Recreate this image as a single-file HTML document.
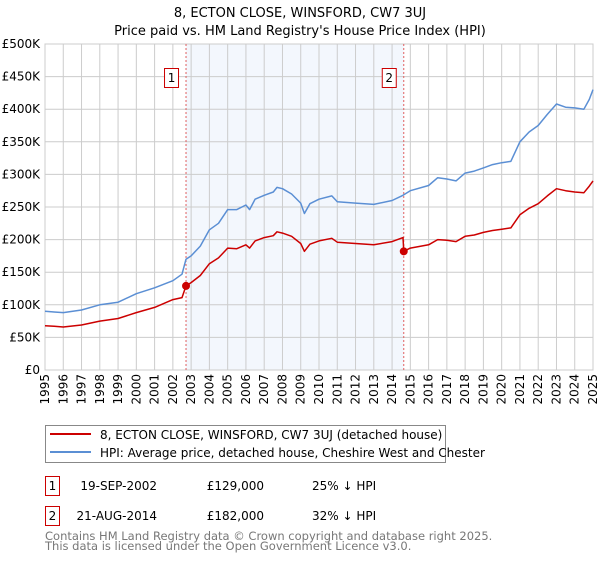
<!DOCTYPE html>
<html><head><meta charset="utf-8"><style>
body{margin:0;background:#fff;font-family:"DejaVu Sans","Liberation Sans",sans-serif;}
svg text{font-family:"DejaVu Sans","Liberation Sans",sans-serif;}
</style></head><body>
<svg id="c" width="600" height="560" xmlns="http://www.w3.org/2000/svg">
<text x="300" y="17" text-anchor="middle" font-size="13">8, ECTON CLOSE, WINSFORD, CW7 3UJ</text>
<text x="300" y="35" text-anchor="middle" font-size="13">Price paid vs. HM Land Registry's House Price Index (HPI)</text>
<g id="plot"></g>
<g>
<rect x="45.5" y="425.5" width="400" height="37" fill="#fff" stroke="#888"/>
<line x1="50" y1="434" x2="91" y2="434" stroke="#cc0000" stroke-width="2"/>
<text x="100" y="439" font-size="12">8, ECTON CLOSE, WINSFORD, CW7 3UJ (detached house)</text>
<line x1="50" y1="452" x2="91" y2="452" stroke="#5b8fd4" stroke-width="2"/>
<text x="100" y="457" font-size="12">HPI: Average price, detached house, Cheshire West and Chester</text>
</g>
<g>
<rect x="45.5" y="476.5" width="14" height="19" fill="#fff" stroke="#cc0000"/>
<text x="52.5" y="490" font-size="12" text-anchor="middle">1</text>
<text x="157" y="490" font-size="12" text-anchor="end">19-SEP-2002</text>
<text x="264" y="490" font-size="12" text-anchor="end">£129,000</text>
<text x="312" y="490" font-size="12">25% ↓ HPI</text>
<rect x="45.5" y="506.5" width="14" height="19" fill="#fff" stroke="#cc0000"/>
<text x="52.5" y="520" font-size="12" text-anchor="middle">2</text>
<text x="157" y="520" font-size="12" text-anchor="end">21-AUG-2014</text>
<text x="264" y="520" font-size="12" text-anchor="end">£182,000</text>
<text x="312" y="520" font-size="12">32% ↓ HPI</text>
</g>
<text x="45" y="540" font-size="11.5" fill="#777">Contains HM Land Registry data © Crown copyright and database right 2025.</text>
<text x="45" y="550" font-size="11.5" fill="#777">This data is licensed under the Open Government Licence v3.0.</text>
</svg>
<script>
const hpiYears=[1995,1995.5,1996,1997,1998,1999,2000,2001,2002,2002.5,2002.72,2003,2003.5,2004,2004.5,2005,2005.5,2006,2006.2,2006.5,2007,2007.5,2007.7,2008,2008.5,2009,2009.2,2009.5,2010,2010.7,2011,2012,2013,2014,2014.6,2015,2016,2016.5,2017,2017.5,2018,2018.5,2019,2019.5,2020,2020.5,2021,2021.5,2022,2022.5,2023,2023.5,2024,2024.5,2024.8,2025];
const hpiValues=[90,89,88,92,100,104,117,126,137,147,170,175,190,215,225,246,246,253,246,262,268,273,280,278,270,256,240,255,262,267,258,256,254,260,268,275,283,295,293,290,302,305,310,315,318,320,350,365,375,392,408,403,402,400,415,430];
const redYears=[1995,1995.5,1996,1997,1998,1999,2000,2001,2002,2002.5,2002.72,2003,2003.5,2004,2004.5,2005,2005.5,2006,2006.2,2006.5,2007,2007.5,2007.7,2008,2008.5,2009,2009.2,2009.5,2010,2010.7,2011,2012,2013,2014,2014.6,2014.64,2015,2016,2016.5,2017,2017.5,2018,2018.5,2019,2019.5,2020,2020.5,2021,2021.5,2022,2022.5,2023,2023.5,2024,2024.5,2024.8,2025];
const redValues=[68,67,66,69,75,79,88,96,108,111,129,134,145,163,172,187,186,192,187,198,203,206,212,210,205,194,182,193,198,202,196,194,192,197,203,182,187,192,200,199,197,205,207,211,214,216,218,238,248,255,267,278,275,273,272,282,290];
const saleYears=[2002.72,2014.64];
const saleValues=[129,182];
const saleLabels=["1","2"];
const yTicks=[0,50,100,150,200,250,300,350,400,450,500];
const yTickLabels=["£0","£50K","£100K","£150K","£200K","£250K","£300K","£350K","£400K","£450K","£500K"];
const xTicks=[1995,1996,1997,1998,1999,2000,2001,2002,2003,2004,2005,2006,2007,2008,2009,2010,2011,2012,2013,2014,2015,2016,2017,2018,2019,2020,2021,2022,2023,2024,2025];

const L=45,R=593,T=44,B=370;
const xs=y=>L+(y-1995)/30*(R-L);
const ys=v=>B-v/500*(B-T);
const NS="http://www.w3.org/2000/svg";
const g=document.getElementById('plot');
function mk(tag,attrs,parent){const e=document.createElementNS(NS,tag);for(const k in attrs)e.setAttribute(k,attrs[k]);(parent||g).appendChild(e);return e;}
const shade=mk('rect',{x:xs(saleYears[0]),y:T,width:xs(saleYears[1])-xs(saleYears[0]),height:B-T,fill:'#eef3fc',opacity:0.7});


yTicks.forEach((v,i)=>{
  const ln=mk('line',{x1:L,x2:R,y1:ys(v),y2:ys(v),stroke:'#ccc','stroke-width':1});
  
  
  const t=mk('text',{x:L-5,y:ys(v)+4,'text-anchor':'end','font-size':12});
  t.textContent=yTickLabels[i];
  
  
});
xTicks.forEach(yr=>{
  const ln=mk('line',{x1:xs(yr),x2:xs(yr),y1:T,y2:B,stroke:'#ccc','stroke-width':1});
  
  
  const t=mk('text',{x:0,y:0,'font-size':12,'text-anchor':'end',transform:`translate(${xs(yr)+4},${B+4}) rotate(-90)`});
  t.textContent=yr;
  
  
});
const fr=mk('rect',{x:L,y:T,width:R-L,height:B-T,fill:'none',stroke:'#ccc'});


saleYears.forEach((yr,i)=>{
  const ln=mk('line',{x1:xs(yr),x2:xs(yr),y1:T,y2:B,stroke:'#e06060','stroke-dasharray':'2,2'});
  
  
});
function path(xa,va,color,name){
  const d=xa.map((x,i)=>(i?'L':'M')+xs(x).toFixed(1)+','+ys(va[i]).toFixed(1)).join('');
  const p=mk('path',{d:d,fill:'none',stroke:color,'stroke-width':1.5,'stroke-linejoin':'round'});
  
  
}
path(hpiYears,hpiValues,'#5b8fd4','hpi-line');
path(redYears,redValues,'#cc0000','property-price-line');
saleYears.forEach((yr,i)=>{
  const c=mk('circle',{cx:xs(yr),cy:ys(saleValues[i]),r:4,fill:'#cc0000'});
  
  
  const bx=mk('rect',{x:xs(yr)-21.5,y:68.5,width:14,height:19,fill:'#fff',stroke:'#cc0000'});
  
  
  const t=mk('text',{x:xs(yr)-14.5,y:82,'text-anchor':'middle','font-size':12});
  t.textContent=saleLabels[i];
  
  
});
</script>
</body></html>
